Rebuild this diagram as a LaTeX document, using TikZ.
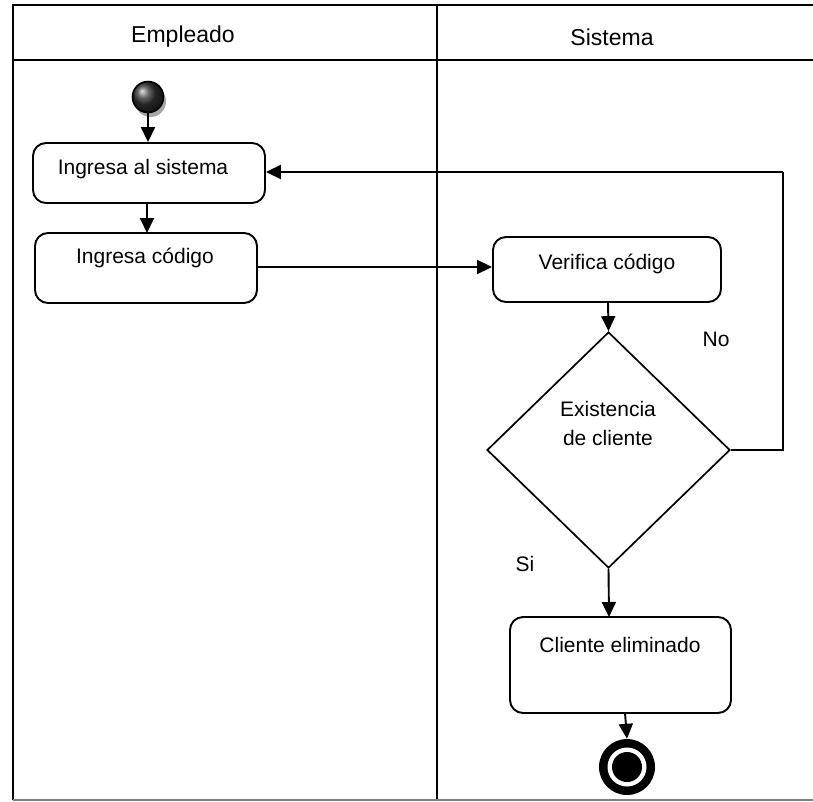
\documentclass[tikz,border=0pt]{standalone}
\usepackage{fontspec}
\setmainfont{Liberation Sans}
\usetikzlibrary{shapes.geometric,arrows.meta,shadows}
\begin{document}
\begin{tikzpicture}[x=1pt,y=-1pt,
  every node/.style={font=\fontsize{21}{29}\selectfont},
  frame/.style={line width=2.4pt,black},
  head/.style={inner sep=0pt,font=\fontsize{23}{28}\selectfont},
  actbox/.style={draw,line width=1.9pt,rounded corners=13pt,inner sep=0pt},
  txt/.style={inner sep=0pt,align=center},
  flow/.style={line width=1.9pt,-{Triangle[length=15pt,width=14pt]}},
  plain/.style={line width=1.9pt}]
\useasboundingbox (0,0) rectangle (813,801);
% frame
\draw[frame] (813,5) -- (13,5) -- (13,800);
\draw[frame] (13,60) -- (813,60);
\draw[frame] (437,5) -- (437,800);
\draw[line width=2pt,gray] (13,799.5) -- (813,799.5);
\node[head] (hEmp) at (183,37) {Empleado};
\node[head] (hSis) at (612,37) {Sistema};
% start
\fill[gray!70] (150.5,101.5) circle (15.5);
\node[circle,draw=black,line width=1.6pt,minimum size=31pt,inner sep=0pt,shading=ball,ball color=black!80] (start) at (148,97) {};
% boxes
\node[actbox,minimum width=232pt,minimum height=60pt] (b1) at (149,173) {};
\node[txt] (t1) at (143,169) {Ingresa al sistema};
\node[actbox,minimum width=222pt,minimum height=70pt] (b2) at (146,268) {};
\node[txt] (t2) at (145,258) {Ingresa código};
\node[actbox,minimum width=228pt,minimum height=65pt] (b3) at (607,269.5) {};
\node[txt] (t3) at (607,264) {Verifica código};
\node[diamond,draw,line width=1.7pt,minimum width=243pt,minimum height=236pt,inner sep=0pt] (d) at (608.5,450) {};
\node[txt] (td) at (608,423.5) {Existencia\\de cliente};
\node[actbox,minimum width=221pt,minimum height=96pt] (b4) at (620.5,665) {};
\node[txt] (t4) at (620,645) {Cliente eliminado};
% end
\node[circle,fill=black,minimum size=56pt,inner sep=0pt] (end) at (627,767) {};
\node[circle,fill=white,minimum size=39pt,inner sep=0pt] (endw) at (end.center) {};
\node[circle,fill=black,minimum size=30pt,inner sep=0pt] (endi) at (end.center) {};
% labels
\node[txt] (no) at (716,339) {No};
\node[txt] (si) at (525,564) {Si};
% connectors
\draw[flow] (start.south) -- (start.south |- b1.north);
\draw[flow] (147,203) -- (147,233);
\draw[flow] (b2.east |- 0,267) -- (b3.west |- 0,267);
\draw[flow] (608,302) -- (d.north);
\draw[flow] (d.south) -- (609,617);
\draw[flow] (625,713) -- (end.north);
\coordinate (c1) at (783,450);
\coordinate (c2) at (783,172);
\draw[plain] (d.east) -- (c1) -- (c2);
\draw[flow] (c2) -- (b1.east |- c2);
\end{tikzpicture}
\end{document}
